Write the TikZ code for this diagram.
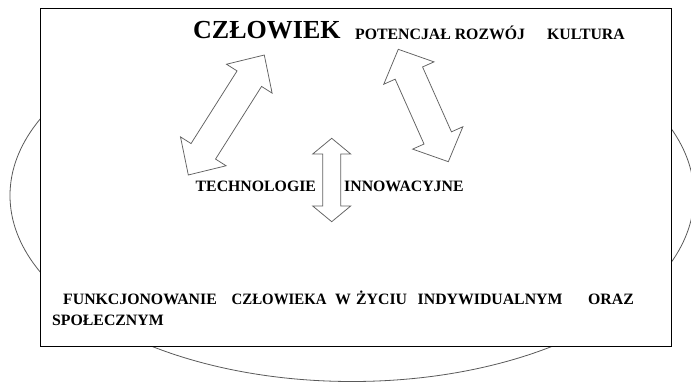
\documentclass[tikz,border=0pt]{standalone}
\usepackage{fontspec}
\setmainfont{Liberation Serif}
\newfontfamily\tnrfont{Liberation Serif}
\tikzset{
  ovalline/.style={draw=black!65, line width=0.8pt},
  framebox/.style={draw=black, line width=0.9pt, fill=white},
  arrowline/.style={draw=black!62, line width=0.75pt, fill=white, line join=miter},
  lbl/.style={anchor=base west, inner sep=0pt, font=\tnrfont\bfseries\fontsize{15.8}{15.8}\selectfont},
  biglbl/.style={anchor=base west, inner sep=0pt, font=\tnrfont\bfseries\fontsize{26}{26}\selectfont}
}
% double arrow polygon: #1 half length, #2 head length, #3 head half-width, #4 shaft half-width
\newcommand{\dblarrowpath}[4]{%
  (-#1,0) -- (-#1+#2,#3) -- (-#1+#2,#4) -- (#1-#2,#4) -- (#1-#2,#3) -- (#1,0)
  -- (#1-#2,-#3) -- (#1-#2,-#4) -- (-#1+#2,-#4) -- (-#1+#2,-#3) -- cycle}
\begin{document}
\begin{tikzpicture}[x=1pt,y=1pt]
\useasboundingbox (0,0) rectangle (691,381);
% background oval
\draw[ovalline] (352,185.5) ellipse [x radius=342, y radius=186];
% frame
\node[framebox, minimum width=631pt, minimum height=338pt, inner sep=0pt, anchor=south west] (frame) at (40,34) {};
% arrows
\begin{scope}[shift={(226.3,266)}, rotate=57.65]
  \draw[arrowline] \dblarrowpath{71}{28}{27}{14.5};
\end{scope}
\begin{scope}[shift={(423.3,275.5)}, rotate=114]
  \draw[arrowline] \dblarrowpath{61.5}{26}{27.5}{15};
\end{scope}
\begin{scope}[shift={(331.7,201)}, rotate=90]
  \draw[arrowline] \dblarrowpath{41.7}{15.7}{19}{9};
\end{scope}
% texts
\node[biglbl] (czlowiek) at (193,342) {CZŁOWIEK};
\node[lbl] (potencjal) at (355,341.5) {POTENCJAŁ ROZWÓJ};
\node[lbl] (kultura) at (547,341.5) {KULTURA};
\node[lbl] (techno) at (195.5,189.5) {TECHNOLOGIE};
\node[lbl] (innow) at (344,190) {INNOWACYJNE};
\node[lbl] (w1) at (63,77) {FUNKCJONOWANIE};
\node[lbl, xscale=0.94] (w2) at (231.5,77) {CZŁOWIEKA};
\node[lbl] (w3) at (335,77) {W};
\node[lbl] (w4) at (356,77) {ŻYCIU};
\node[lbl] (w5) at (417.5,77) {INDYWIDUALNYM};
\node[lbl] (w6) at (588,77) {ORAZ};
\node[lbl] (w7) at (52,56) {SPOŁECZNYM};
\end{tikzpicture}
\end{document}
